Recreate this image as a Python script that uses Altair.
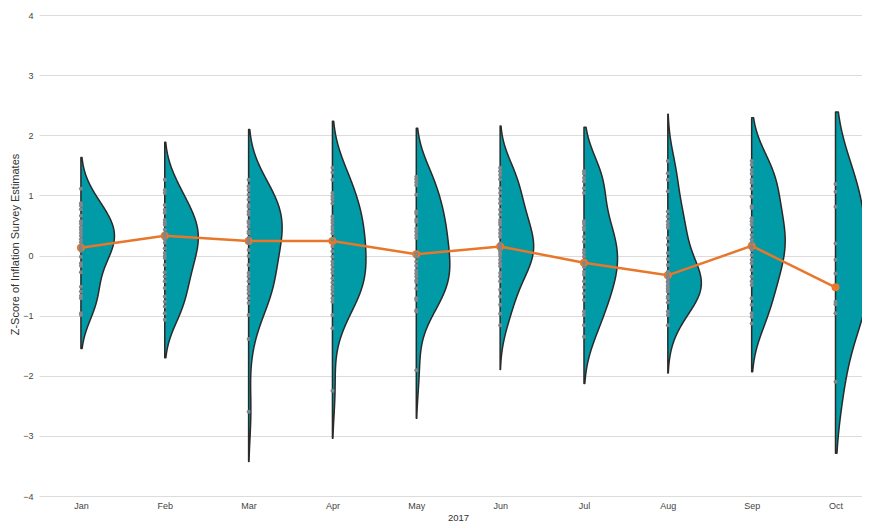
import altair as alt
import pandas as pd

# ---------------- data ----------------
months = ["Jan", "Feb", "Mar", "Apr", "May", "Jun", "Jul", "Aug", "Sep", "Oct"]
means = [0.13, 0.33, 0.24, 0.24, 0.02, 0.15, -0.12, -0.33, 0.16, -0.53]
violin_top = [1.64, 1.90, 2.10, 2.24, 2.12, 2.17, 2.15, 2.35, 2.30, 2.39]
violin_bottom = [-1.56, -1.71, -3.44, -3.04, -2.72, -1.91, -2.14, -1.96, -1.94, -3.30]

jan = [1.11, 0.87, 0.83, 0.77, 0.66, 0.57, 0.53, 0.47, 0.43, 0.38, 0.33, 0.27, 0.22,
       0.15, 0.12, 0.08, -0.02, -0.13, -0.17, -0.28, -0.52, -0.60, -0.67, -0.71, -0.96, -0.99]
feb = [1.26, 1.09, 1.04, 0.84, 0.76, 0.71, 0.59, 0.55, 0.51, 0.43, 0.37, 0.33, 0.27, 0.21,
       0.12, 0.04, -0.01, -0.04, -0.16, -0.28, -0.35, -0.43, -0.54, -0.68, -0.77, -0.85, -0.96, -1.07]
mar = [1.26, 1.15, 1.09, 1.01, 0.93, 0.84, 0.81, 0.73, 0.68, 0.57, 0.54, 0.48, 0.40, 0.37,
       0.29, 0.23, 0.21, 0.09, -0.01, -0.16, -0.29, -0.35, -0.43, -0.52, -0.57, -0.63, -0.71,
       -0.79, -0.99, -1.39, -2.60]
apr = [1.46, 1.38, 1.26, 1.04, 0.98, 0.93, 0.87, 0.65, 0.59, 0.54, 0.48, 0.43, 0.37, 0.26,
       0.15, 0.07, -0.02, -0.10, -0.16, -0.23, -0.29, -0.38, -0.45, -0.52, -0.57, -0.63, -0.71,
       -0.77, -0.99, -1.21, -2.25]
may = [1.31, 1.27, 1.22, 1.17, 1.01, 0.73, 0.70, 0.60, 0.56, 0.45, 0.40, 0.34, 0.29, 0.03,
       -0.02, -0.10, -0.17, -0.25, -0.30, -0.35, -0.41, -0.44, -0.55, -0.71, -0.74, -0.91, -0.93, -1.91]
jun = [1.46, 1.40, 1.34, 1.27, 1.12, 1.04, 0.94, 0.87, 0.76, 0.68, 0.59, 0.55, 0.51, 0.43,
       0.37, 0.31, 0.20, 0.15, 0.12, 0.09, 0.07, 0.03, -0.01, -0.07, -0.13, -0.18, -0.29, -0.35,
       -0.43, -0.57, -0.68, -0.82, -0.97, -1.16]
jul = [1.40, 1.36, 1.29, 1.23, 1.12, 1.04, 0.57, 0.53, 0.47, 0.43, 0.31, 0.23, 0.09, 0.04,
       -0.02, -0.13, -0.19, -0.27, -0.32, -0.43, -0.53, -0.63, -0.74, -0.93, -0.99, -1.16, -1.35]
aug = [1.57, 1.37, 1.26, 1.07, 0.73, 0.65, 0.57, 0.51, 0.46, 0.29, 0.18, 0.04, -0.06, -0.16,
       -0.27, -0.32, -0.36, -0.38, -0.43, -0.45, -0.50, -0.52, -0.55, -0.57, -0.60, -0.68, -0.71,
       -0.78, -0.93, -0.99, -1.16]
sep = [1.57, 1.51, 1.42, 1.36, 1.26, 1.21, 1.11, 0.98, 0.82, 0.79, 0.62, 0.57, 0.51, 0.43,
       0.34, 0.27, 0.22, 0.15, 0.09, 0.01, -0.07, -0.13, -0.24, -0.35, -0.43, -0.49, -0.71,
       -0.82, -0.96, -1.02, -1.13]
oct_ = [1.19, 1.06, 0.81, 0.20, -0.07, -0.30, -0.77, -0.81, -0.96, -2.10]

observations = [jan, feb, mar, apr, may, jun, jul, aug, sep, oct_]

# ---------------- tables ----------------
obs_rows = []
for i, (m, vals) in enumerate(zip(months, observations)):
    for v in vals:
        obs_rows.append({"m": m, "idx": i, "lo": violin_bottom[i], "hi": violin_top[i], "v": v})
obs_df = pd.DataFrame(obs_rows)

months_df = pd.DataFrame({
    "m": months,
    "idx": list(range(len(months))),
    "mean": means,
})

TEAL = "#009BA6"
OUTLINE = "#2A2A2A"
ORANGE = "#E8762B"
GREY = "#80878C"
FONT = "Liberation Sans"

label_expr = "[" + ",".join("'%s'" % m for m in months) + "][datum.value]"

xscale = alt.Scale(domain=[-0.5, 9.316], nice=False, zero=False)
yscale = alt.Scale(domain=[-4, 4], nice=False, zero=False)

xaxis = alt.Axis(
    values=list(range(len(months))), labelExpr=label_expr, grid=False, ticks=False,
    domain=False, title="2017", labelPadding=5, labelFontSize=9, labelColor="#444444",
    labelFont=FONT, titleFont=FONT, titleFontSize=9.5, titleFontWeight="normal",
    titleColor="#333333", titleX=419, titleY=21, titleBaseline="middle",
)
yaxis = alt.Axis(
    values=list(range(-4, 5)), format="d", grid=True, gridColor="#DCDCDC", gridWidth=1,
    ticks=False, domain=False, title="Z-Score of Inflation Survey Estimates", labelPadding=6,
    labelFontSize=9, labelColor="#444444", labelFont=FONT, titleFont=FONT,
    titleFontSize=11, titleFontWeight="normal", titleColor="#333333",
    titleX=-24, titleY=229, titleBaseline="middle", titleAngle=270,
)

violin = alt.Chart(obs_df).transform_density(
    "v", groupby=["m", "idx", "lo", "hi"], extent=[-3.6, 2.6], steps=320,
    as_=["value", "density"]
).transform_filter(
    "datum.value >= datum.lo && datum.value <= datum.hi"
).transform_joinaggregate(
    maxd="max(density)", groupby=["m"]
).transform_calculate(
    xr="datum.idx + 0.4 * datum.density / datum.maxd"
).mark_area(
    orient="horizontal", fill=TEAL, fillOpacity=1, stroke=OUTLINE, strokeWidth=1.5,
    strokeJoin="round",
).encode(
    y=alt.Y("value:Q", scale=yscale, axis=yaxis),
    x=alt.X("xr:Q", scale=xscale, axis=xaxis),
    x2=alt.X2("idx:Q"),
    detail="m:N",
)

mean_line = alt.Chart(months_df).mark_line(color=ORANGE, strokeWidth=2.5).encode(
    x=alt.X("idx:Q", scale=xscale),
    y=alt.Y("mean:Q", scale=yscale),
)
mean_pts = alt.Chart(months_df).mark_circle(color=ORANGE, size=64, opacity=1).encode(
    x=alt.X("idx:Q", scale=xscale),
    y=alt.Y("mean:Q", scale=yscale),
)
dots = alt.Chart(obs_df).mark_circle(color=GREY, size=16, opacity=1).encode(
    x=alt.X("idx:Q", scale=xscale),
    y=alt.Y("v:Q", scale=yscale),
)

chart = alt.layer(violin, mean_line, mean_pts, dots).properties(
    width=823, height=481,
    autosize=alt.AutoSizeParams(type="none"),
    padding={"left": 31, "top": 7, "right": 0, "bottom": 26},
    background="white",
).configure_view(stroke=None)

chart.save("out.html", embed_options={"renderer": "svg", "actions": False})
